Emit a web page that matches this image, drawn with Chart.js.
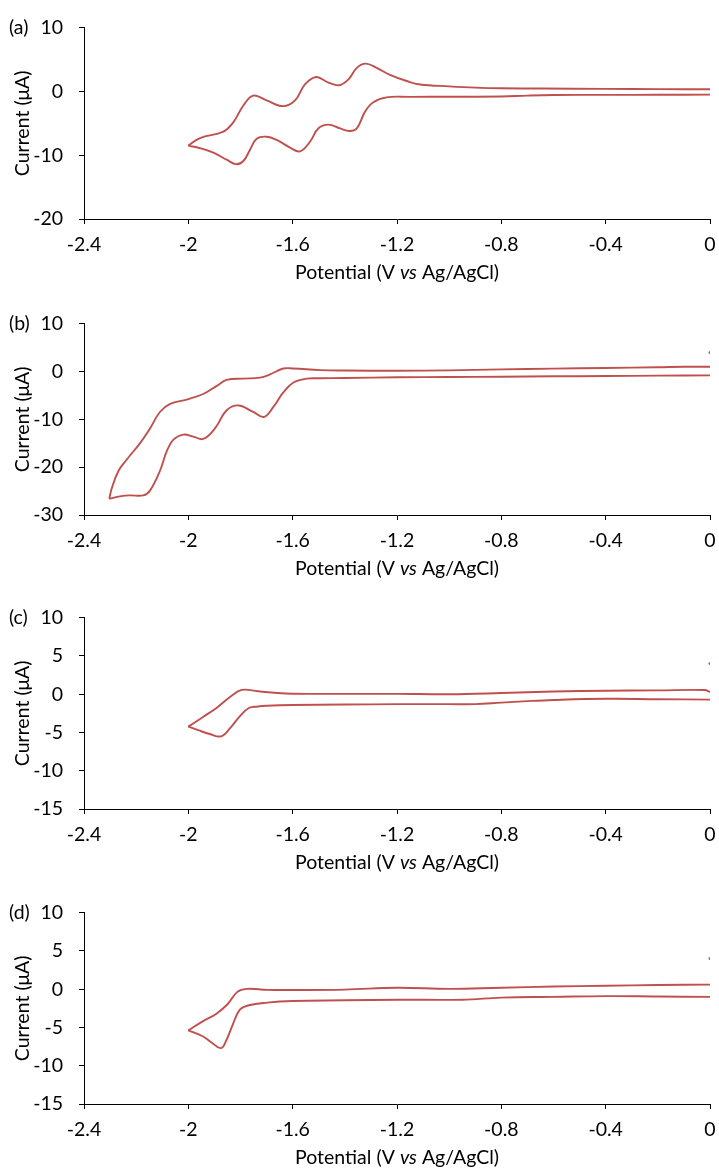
<!DOCTYPE html>
<html>
<head>
<meta charset="utf-8">
<script src="https://cdn.jsdelivr.net/npm/chart.js@4.4.1/dist/chart.umd.min.js"></script>
<style>
  html, body { margin: 0; padding: 0; background: #fff; overflow: hidden; width: 719px; height: 1174px; }
  .panel { position: absolute; left: 0; width: 719px; height: 293px; }
</style>
</head>
<body>
<div class="panel" style="top:0px"><canvas id="cvA" width="719" height="293"></canvas></div>
<div class="panel" style="top:296px"><canvas id="cvB" width="719" height="293"></canvas></div>
<div class="panel" style="top:590px"><canvas id="cvC" width="719" height="293"></canvas></div>
<div class="panel" style="top:885px"><canvas id="cvD" width="719" height="293"></canvas></div>
<script>
// shared x axis (potential, V vs Ag/AgCl)
var xTicks = [-2.4, -2, -1.6, -1.2, -0.8, -0.4, 0];
var xTickLabels = ['-2.4', '-2', '-1.6', '-1.2', '-0.8', '-0.4', '0'];

// (a) forward scan 0 -> -2 V, then reverse scan back to 0
var aForwardV = [0, -0.2, -0.4, -0.6, -0.7, -0.8, -1.0, -1.15, -1.24, -1.291, -1.323, -1.354, -1.383, -1.418, -1.463, -1.502, -1.533, -1.572, -1.61, -1.661, -1.7, -1.738, -1.763, -1.789, -1.817, -1.853, -1.904, -1.955, -2.0];
var aForwardI = [-0.5, -0.52, -0.54, -0.56, -0.65, -0.8, -0.82, -0.85, -0.92, -1.7, -3.2, -5.8, -6.2, -5.8, -5.2, -5.8, -7.85, -9.4, -8.8, -7.6, -7.1, -7.4, -9.1, -10.9, -11.4, -10.7, -9.6, -8.9, -8.5];
var aReverseV = [-2.0, -1.955, -1.866, -1.827, -1.789, -1.751, -1.7, -1.636, -1.591, -1.553, -1.51, -1.463, -1.421, -1.386, -1.354, -1.32, -1.278, -1.227, -1.163, -1.112, -1.0, -0.9, -0.8, -0.65, -0.4, -0.2, 0];
var aReverseI = [-8.5, -7.3, -6.3, -4.8, -2.2, -0.66, -1.4, -2.3, -1.4, 1.1, 2.26, 1.4, 0.97, 1.9, 3.7, 4.36, 3.7, 2.6, 1.64, 1.1, 0.8, 0.6, 0.5, 0.46, 0.4, 0.37, 0.35];
var aYTicks = [-20, -10, 0, 10];

// (b)
var bForwardV = [0, -0.2, -0.4, -0.6, -0.8, -1.0, -1.2, -1.4, -1.495, -1.546, -1.597, -1.636, -1.674, -1.71, -1.751, -1.808, -1.853, -1.898, -1.943, -1.981, -2.019, -2.058, -2.083, -2.109, -2.147, -2.173, -2.224, -2.262, -2.303];
var bForwardI = [-0.8, -0.85, -0.95, -1.0, -1.1, -1.15, -1.2, -1.35, -1.42, -1.49, -2.3, -4.36, -7.4, -9.5, -8.46, -7.09, -8.1, -11.9, -14.1, -13.6, -13.2, -14.3, -16.7, -20.8, -24.9, -25.9, -25.9, -26.1, -26.6];
var bReverseV = [-2.303, -2.294, -2.268, -2.236, -2.185, -2.147, -2.109, -2.07, -2.006, -1.943, -1.891, -1.853, -1.789, -1.725, -1.687, -1.636, -1.597, -1.495, -1.4, -1.2, -1.0, -0.8, -0.6, -0.4, -0.2, -0.1, 0];
var bReverseI = [-26.6, -24.5, -20.8, -18.4, -14.96, -11.9, -8.46, -6.76, -5.86, -4.7, -2.99, -1.76, -1.49, -1.28, -0.6, 0.63, 0.63, 0.29, 0.2, 0.15, 0.25, 0.45, 0.6, 0.75, 0.9, 1.0, 1.0];
var bYTicks = [-30, -20, -10, 0, 10];

// (c)
var cForwardV = [0, -0.2, -0.4, -0.6, -0.7, -0.8, -0.9, -1.0, -1.2, -1.4, -1.6, -1.7, -1.733, -1.768, -1.803, -1.839, -1.874, -1.918, -1.962, -2.0];
var cForwardI = [-0.7, -0.65, -0.6, -0.75, -0.9, -1.1, -1.3, -1.3, -1.3, -1.35, -1.4, -1.5, -1.6, -1.8, -2.9, -4.4, -5.5, -5.2, -4.7, -4.24];
var cReverseV = [-2.0, -1.945, -1.892, -1.839, -1.795, -1.733, -1.627, -1.4, -1.2, -1.0, -0.8, -0.6, -0.4, -0.2, -0.02, 0];
var cReverseI = [-4.24, -3.0, -1.8, -0.33, 0.56, 0.39, 0.1, 0.05, 0.05, 0.0, 0.15, 0.35, 0.45, 0.5, 0.55, 0.3];
var cYTicks = [-15, -10, -5, 0, 5, 10];

// (d)
var dForwardV = [0, -0.2, -0.4, -0.6, -0.8, -0.95, -1.2, -1.4, -1.6, -1.698, -1.768, -1.803, -1.83, -1.856, -1.874, -1.91, -1.945, -2.0];
var dForwardI = [-1.0, -0.95, -0.9, -1.0, -1.1, -1.37, -1.37, -1.45, -1.54, -1.75, -2.1, -2.7, -4.65, -6.8, -7.7, -7.0, -6.15, -5.38];
var dReverseV = [-2.0, -1.945, -1.892, -1.848, -1.813, -1.777, -1.698, -1.6, -1.4, -1.2, -1.0, -0.8, -0.6, -0.4, -0.2, 0];
var dReverseI = [-5.38, -4.2, -3.2, -1.9, -0.38, 0.04, -0.08, -0.1, -0.05, 0.2, 0.05, 0.2, 0.35, 0.45, 0.55, 0.6];
var dYTicks = [-15, -10, -5, 0, 5, 10];

// stray marker of the second series (panels b-d)
var markerV = [0];
var markerI = [4];

var FONT = { family: 'Lato', size: 19.5 };
var RED = '#C0504D';

function pairs(vs, is) {
  return vs.map(function(v, i) { return { x: v, y: is[i] }; });
}

// panel letter + x title with italic "vs"
var textPlugin = {
  id: 'panelText',
  afterDraw: function(chart) {
    var ctx = chart.ctx;
    var area = chart.chartArea;
    var y = chart.scales.y;
    ctx.save();
    ctx.fillStyle = '#000';
    ctx.textBaseline = 'middle';
    ctx.font = '19.5px Lato';
    ctx.textAlign = 'left';
    ctx.fillText(chart.options.plugins.panelText.label, 9, y.getPixelForValue(y.max));

    var parts = [['Potential (V ', '19.5px Lato'], ['vs', 'italic 19.5px Lato'], [' Ag/AgCl)', '19.5px Lato']];
    var total = 0;
    parts.forEach(function(p) { ctx.font = p[1]; total += ctx.measureText(p[0]).width; });
    var x = (area.left + area.right) / 2 - total / 2;
    var ty = area.bottom + 54;
    parts.forEach(function(p) {
      ctx.font = p[1];
      ctx.fillText(p[0], x, ty);
      x += ctx.measureText(p[0]).width;
    });
    ctx.restore();
  }
};

function makePanel(id, label, yTicks, fV, fI, rV, rI, showMarker) {
  var datasets = [
    { data: pairs(fV, fI), showLine: true, borderColor: RED, borderWidth: 1.9, tension: 0.4, pointRadius: 0, fill: false },
    { data: pairs(rV, rI), showLine: true, borderColor: RED, borderWidth: 1.9, tension: 0.4, pointRadius: 0, fill: false }
  ];
  if (showMarker) {
    datasets.push({ data: pairs(markerV, markerI), showLine: false, pointRadius: 1.5, pointBorderWidth: 0, backgroundColor: '#4F81BD' });
  }
  var ctx = document.getElementById(id).getContext('2d');
  return new Chart(ctx, {
    type: 'scatter',
    data: { datasets: datasets },
    plugins: [textPlugin],
    options: {
      responsive: false,
      animation: false,
      layout: { padding: { top: 24, right: 9, bottom: 0, left: 0 } },
      plugins: {
        legend: { display: false },
        tooltip: { enabled: false },
        panelText: { label: label }
      },
      scales: {
        x: {
          type: 'linear',
          min: -2.4,
          max: 0,
          afterBuildTicks: function(s) { s.ticks = xTicks.map(function(v) { return { value: v }; }); },
          afterFit: function(s) { s.height = 74; s.paddingRight = 0; s.paddingLeft = 0; },
          ticks: {
            font: FONT,
            color: '#000',
            padding: 9,
            maxRotation: 0,
            autoSkip: false,
            callback: function(v, i) { return xTickLabels[i]; }
          },
          grid: { drawOnChartArea: false, drawTicks: true, tickLength: 5, color: '#000' },
          border: { color: '#000', width: 1 }
        },
        y: {
          type: 'linear',
          min: yTicks[0],
          max: yTicks[yTicks.length - 1],
          afterBuildTicks: function(s) { s.ticks = yTicks.map(function(v) { return { value: v }; }); },
          afterFit: function(s) { s.width = 84; },
          ticks: {
            font: FONT,
            color: '#000',
            padding: 16,
            autoSkip: false,
            callback: function(v) { return String(v); }
          },
          grid: { drawOnChartArea: false, drawTicks: true, tickLength: 5, color: '#000' },
          border: { color: '#000', width: 1 },
          title: { display: true, text: 'Current (μA)', font: FONT, color: '#000', padding: { top: 11, bottom: 0 } }
        }
      }
    }
  });
}

makePanel('cvA', '(a)', aYTicks, aForwardV, aForwardI, aReverseV, aReverseI, false);
makePanel('cvB', '(b)', bYTicks, bForwardV, bForwardI, bReverseV, bReverseI, true);
makePanel('cvC', '(c)', cYTicks, cForwardV, cForwardI, cReverseV, cReverseI, true);
makePanel('cvD', '(d)', dYTicks, dForwardV, dForwardI, dReverseV, dReverseI, true);
</script>
</body>
</html>
